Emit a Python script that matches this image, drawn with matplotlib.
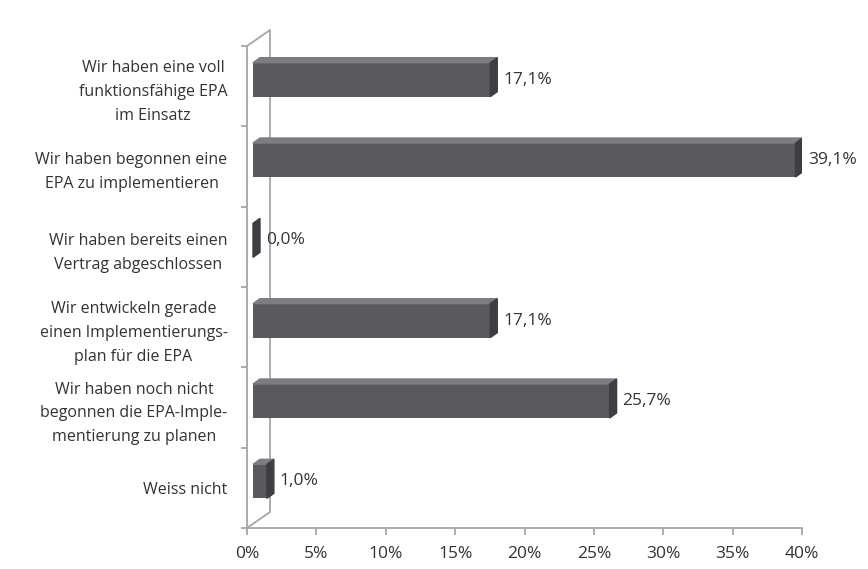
import matplotlib
matplotlib.use("Agg")
import matplotlib.pyplot as plt
from matplotlib.patches import Polygon
import numpy as np

plt.rcParams['font.family'] = ['Open Sans', 'DejaVu Sans']

categories = [
    "Wir haben eine voll\nfunktionsfähige EPA\nim Einsatz",
    "Wir haben begonnen eine\nEPA zu implementieren",
    "Wir haben bereits einen\nVertrag abgeschlossen",
    "Wir entwickeln gerade\neinen Implementierungs-\nplan für die EPA",
    "Wir haben noch nicht\nbegonnen die EPA-Imple-\nmentierung zu planen",
    "Weiss nicht",
]
values = [17.1, 39.1, 0.0, 17.1, 25.7, 1.0]
value_labels = ["17,1%", "39,1%", "0,0%", "17,1%", "25,7%", "1,0%"]
xticks = [0, 5, 10, 15, 20, 25, 30, 35, 40]

W, H = 868, 569
fig = plt.figure(figsize=(W / 100, H / 100), dpi=100)
left_px, right_px, top_px, bottom_px = 247, 802, 46, 528
ax = fig.add_axes([left_px / W, (H - bottom_px) / H,
                   (right_px - left_px) / W, (bottom_px - top_px) / H])
n = len(categories)
ax.set_xlim(0, 40)
ax.set_ylim(-0.5, n - 0.5)

# pixel -> data unit conversions
px_x = 40 / (right_px - left_px)
px_y = n / (bottom_px - top_px)

line_col = "#a6a6a6"
text_col = "#333333"
front_col = "#595a5e"
top_col = "#7c7d81"
side_col = "#3d3e41"

# 3D wall (back edge and depth lines)
wx, wy = 23 * px_x, 16 * px_y
ax.plot([0, wx, wx, 0], [n - 0.5, n - 0.5 + wy, -0.5 + wy, -0.5],
        color=line_col, lw=1.3, clip_on=False, zorder=1)

ypos = np.arange(n)[::-1]
off_x, off_y = 6 * px_x, 6.5 * px_y
dx, dy = 7 * px_x, 5 * px_y
h = 34 * px_y
for y, v, lab in zip(ypos, values, value_labels):
    yc = y + off_y
    x0 = off_x
    x1 = off_x + v
    if v > 0:
        ax.barh(yc, v, left=x0, height=h, color=front_col, zorder=3)
        ax.add_patch(Polygon([(x0, yc + h / 2), (x1, yc + h / 2),
                              (x1 + dx, yc + h / 2 + dy), (x0 + dx, yc + h / 2 + dy)],
                             closed=True, color=top_col, zorder=3))
    ax.add_patch(Polygon([(x1, yc - h / 2), (x1 + dx, yc - h / 2 + dy),
                          (x1 + dx, yc + h / 2 + dy), (x1, yc + h / 2)],
                         closed=True, color=side_col, zorder=3))
    ax.text(x1 + dx + 6 * px_x, yc, lab, va="center", ha="left",
            fontsize=12.5, color=text_col)

for s in ["top", "right"]:
    ax.spines[s].set_visible(False)
for s in ["left", "bottom"]:
    ax.spines[s].set_color(line_col)
    ax.spines[s].set_linewidth(1.3)

ax.set_xticks(xticks)
ax.set_xticklabels([f"{t}%" for t in xticks], fontsize=12.5, color=text_col)
ax.tick_params(axis="x", length=5, width=1.3, color=line_col, pad=8)

ax.set_yticks(ypos)
ax.set_yticklabels(categories, fontsize=11.5, color=text_col, linespacing=1.65)
ax.set_yticks(np.arange(-0.5, n, 1.0), minor=True)
ax.tick_params(axis="y", which="major", length=0, pad=14)
ax.tick_params(axis="y", which="minor", length=4, width=1.3, color=line_col)
for t in ax.get_yticklabels():
    t.set_multialignment("center")

fig.savefig("out.png", dpi=100)
